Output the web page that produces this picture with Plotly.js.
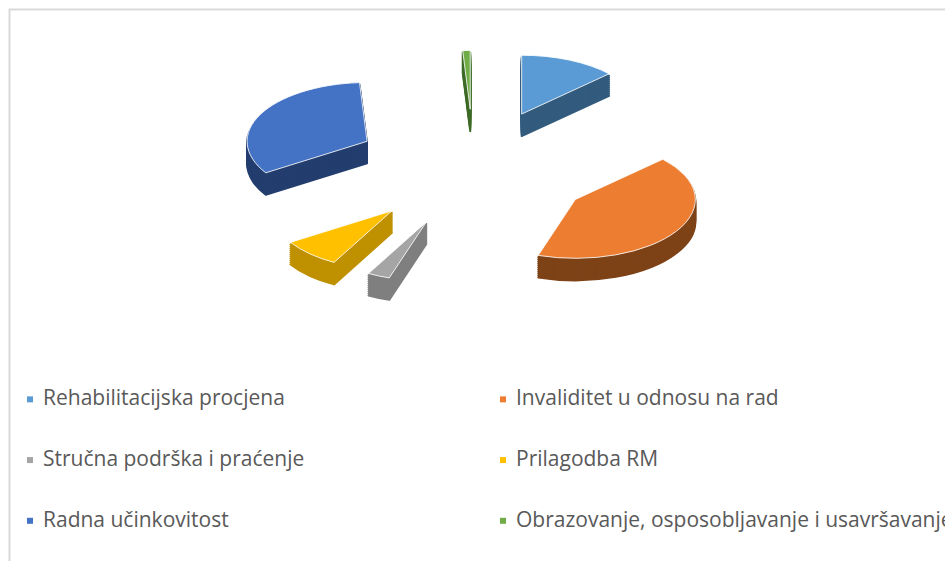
<!DOCTYPE html>
<html><head><meta charset="utf-8">
<script src="https://cdn.plot.ly/plotly-3.0.1.min.js"></script>
<style>
html,body{margin:0;padding:0;background:#fff;}
#chart{width:945px;height:561px;}
.pielayer path{vector-effect:non-scaling-stroke;}
</style>
</head><body><div id="chart"></div>
<script>
// ---- data ----
const categories = [
  "Rehabilitacijska procjena",
  "Invaliditet u odnosu na rad",
  "Stručna podrška i praćenje",
  "Prilagodba RM",
  "Radna učinkovitost",
  "Obrazovanje, osposobljavanje i usavršavanje"
];
const values = [13, 42, 3, 8, 33, 1];
const topColors = ["#5B9BD5", "#ED7D31", "#A5A5A5", "#FFC000", "#4472C4", "#70AD47"];
const sideColors = ["#335B7D", "#7E4217", "#7F7F7F", "#BF9000", "#233E6E", "#3E6B27"];

// ---- geometry / styling ----
const W = 945, H = 561;
const CX = 474, CY = 168, TILT = 0.49, DEPTH = 22, STEP = 2;
const R = 120, PULL = 1;
const S = 2 * R * (1 + PULL);
const DOMCY = 280;
const domain = {
  x: [(CX - S / 2) / W, (CX + S / 2) / W],
  y: [1 - (DOMCY + S / 2) / H, 1 - (DOMCY - S / 2) / H]
};
const legendLabels = categories.map(c => '\u00A0<br><span style="font-size:21px">' + c + '</span><br>\u00A0');

const traces = [];
const offsets = [];
for (let off = DEPTH; off >= STEP; off -= STEP) {
  traces.push({
    type: 'pie', labels: legendLabels, values: values, sort: false,
    direction: 'clockwise', rotation: 0, pull: PULL, domain: domain,
    marker: {colors: sideColors, line: {width: 2, color: sideColors}},
    textinfo: 'none', hoverinfo: 'skip', showlegend: false
  });
  offsets.push(off);
}
traces.push({
  type: 'pie', labels: legendLabels, values: values, sort: false,
  direction: 'clockwise', rotation: 0, pull: PULL, domain: domain,
  marker: {colors: topColors, line: {width: 1, color: 'rgba(255,255,255,0.85)'}},
  textinfo: 'none', hoverinfo: 'skip', showlegend: true
});
offsets.push(0);

const layout = {
  width: W, height: H,
  margin: {l: 0, r: 0, t: 0, b: 0, autoexpand: false},
  paper_bgcolor: '#ffffff',
  font: {family: 'Open Sans, sans-serif', color: '#595959'},
  showlegend: true,
  legend: {
    orientation: 'h', x: 3 / W, xanchor: 'left', y: 1 - 364 / H, yanchor: 'top',
    entrywidth: 428, entrywidthmode: 'pixels', traceorder: 'normal',
    font: {family: 'Open Sans, sans-serif', size: 14.8, color: '#595959'},
    bgcolor: 'rgba(0,0,0,0)', borderwidth: 0
  },
  shapes: [{
    type: 'rect', xref: 'paper', yref: 'paper',
    x0: 9.5 / W, x1: 1.05, y0: -0.05, y1: 1 - 9.5 / H,
    line: {color: '#d9d9d9', width: 2}, fillcolor: 'rgba(0,0,0,0)', layer: 'below'
  }]
};

Plotly.newPlot('chart', traces, layout, {staticPlot: true, displayModeBar: false}).then(gd => {
  const groups = gd.querySelectorAll('.pielayer g.trace');
  groups.forEach((g, i) => {
    const off = offsets[i] || 0;
    g.setAttribute('transform', 'translate(0,' + (CY + off) + ') scale(1,' + TILT + ') translate(0,' + (-DOMCY) + ')');
  });
  gd.querySelectorAll('.legend .legendpoints path').forEach(p => {
    const t = p.getAttribute('transform') || '';
    p.setAttribute('transform', t + ' translate(7,0) scale(0.5)');
    p.style.strokeWidth = '0';
  });
});
</script>
</body></html>
